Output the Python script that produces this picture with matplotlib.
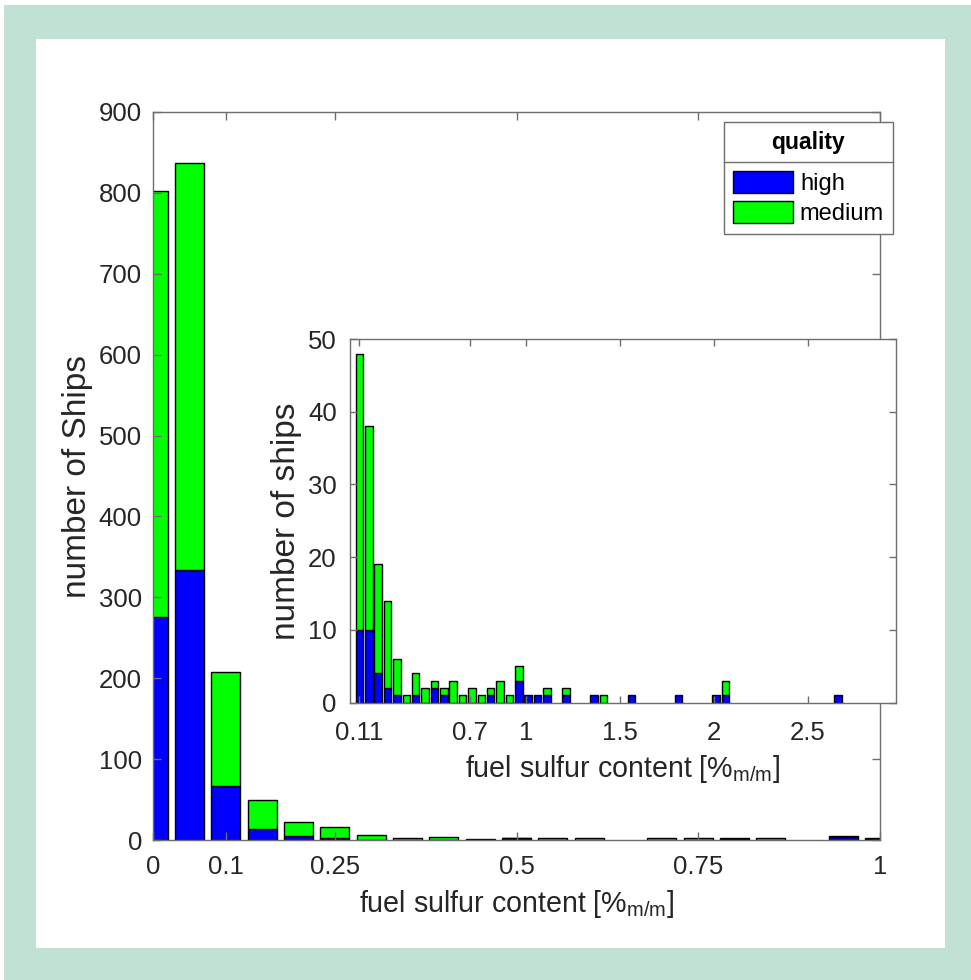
import matplotlib
matplotlib.use("Agg")
import matplotlib.pyplot as plt
from matplotlib.patches import Rectangle
from matplotlib.lines import Line2D
import numpy as np

plt.rcParams['font.family'] = ['Liberation Sans', 'DejaVu Sans']
plt.rcParams['mathtext.fontset'] = 'custom'
plt.rcParams['mathtext.rm'] = 'Liberation Sans'
plt.rcParams['mathtext.it'] = 'Liberation Sans'

# ---------------- data ----------------
# main histogram: bin centres 0, 0.05, ..., 1.0
main_centers = [0.00, 0.05, 0.10, 0.15, 0.20, 0.25, 0.30, 0.35, 0.40, 0.45, 0.50,
                0.55, 0.60, 0.65, 0.70, 0.75, 0.80, 0.85, 0.90, 0.95, 1.00]
main_high = [276, 334, 67, 14, 5, 3, 0, 0, 0, 0, 2, 0, 0, 0, 0, 0, 1, 0, 0, 4, 1]
main_medium = [526, 503, 141, 35, 17, 13, 6, 2, 4, 1, 1, 2, 3, 0, 2, 2, 1, 3, 0, 1, 1]

# inset histogram: bin centres 0.11 + 0.05*k
inset_k = list(range(52))
inset_high = [10, 10, 4, 2, 1, 0, 1, 0, 2, 1, 0, 0, 0, 0, 1, 0, 0, 3, 1, 1,
              1, 0, 1, 0, 0, 1, 0, 0, 0, 1, 0, 0, 0, 0, 1, 0, 0, 0, 1, 1,
              0, 0, 0, 0, 0, 0, 0, 0, 0, 0, 0, 1]
inset_medium = [38, 28, 15, 12, 5, 1, 3, 2, 1, 1, 3, 1, 2, 1, 1, 3, 1, 2, 0, 0,
                1, 0, 1, 0, 0, 0, 1, 0, 0, 0, 0, 0, 0, 0, 0, 0, 0, 0, 0, 2,
                0, 0, 0, 0, 0, 0, 0, 0, 0, 0, 0, 0]

main_xticks = [0, 0.1, 0.25, 0.5, 0.75, 1]
main_xticklabels = ['0', '0.1', '0.25', '0.5', '0.75', '1']
main_yticks = list(range(0, 901, 100))
inset_xticks = [0.11, 0.7, 1, 1.5, 2, 2.5]
inset_xticklabels = ['0.11', '0.7', '1', '1.5', '2', '2.5']
inset_yticks = [0, 10, 20, 30, 40, 50]

BLUE = '#0000ff'
GREEN = '#00ff00'
AXC = '#6e6e6e'
TXT = '#262626'

W, H = 971, 980
fig = plt.figure(figsize=(W / 100, H / 100), dpi=100)
fig.patch.set_facecolor('white')

# background frame
fig.add_artist(Rectangle((4 / W, 0), 1 - 4 / W, 1 - 5 / H, transform=fig.transFigure,
                         facecolor='#c0e1d3', edgecolor='none', zorder=-10))
fig.add_artist(Rectangle((36 / W, 1 - 948 / H), (945 - 36) / W, (948 - 39) / H,
                         transform=fig.transFigure, facecolor='white',
                         edgecolor='none', zorder=-9))


def ec(vals):
    return ['k' if v > 0 else 'none' for v in vals]


def style_axes(ax, ticklen, fs):
    for s in ax.spines.values():
        s.set_color(AXC)
        s.set_linewidth(1.0)
    ax.tick_params(direction='in', top=True, right=True, length=ticklen,
                   width=1.0, color=AXC, labelcolor=TXT, labelsize=fs)


XLAB = 'fuel sulfur content [%$_{\\mathregular{m/m}}$]'

# ---------------- main axes ----------------
ax = fig.add_axes([153 / W, 1 - 840 / H, (880 - 153) / W, (840 - 112) / H])
mc = np.array(main_centers)
mh = np.array(main_high)
mm = np.array(main_medium)
b1 = ax.bar(mc, mh, width=0.04, color=BLUE, edgecolor=ec(mh), linewidth=1.0, label='high')
b2 = ax.bar(mc, mm, width=0.04, bottom=mh, color=GREEN, edgecolor=ec(mm), linewidth=1.0,
            label='medium')
ax.set_xlim(0, 1)
ax.set_ylim(0, 900)
ax.set_xticks(main_xticks)
ax.set_xticklabels(main_xticklabels)
ax.set_yticks(main_yticks)
style_axes(ax, 6, 18.5)
ax.tick_params(axis='x', pad=11)
ax.tick_params(axis='y', pad=8)
ax.set_xlabel(XLAB, fontsize=20.6, color=TXT, labelpad=6)
ax.set_ylabel('number of Ships', fontsize=24, color=TXT, labelpad=4.5)

leg = ax.legend(handles=[b1, b2], labels=['high', 'medium'], title='quality',
                loc='upper right', bbox_to_anchor=(893 / W, 1 - 122 / H),
                bbox_transform=fig.transFigure, fontsize=17, title_fontsize=16.5,
                frameon=True, fancybox=False, framealpha=1, edgecolor=AXC,
                handlelength=2.55, handleheight=1.05, handletextpad=0.3,
                labelspacing=0.27, borderpad=0.38, borderaxespad=0)
leg.get_title().set_fontweight('bold')
leg.get_frame().set_linewidth(1.0)
leg.set_zorder(20)
leg._legend_box.sep = 12

# ---------------- inset axes ----------------
ax2 = fig.add_axes([350 / W, 1 - 702.5 / H, (896 - 350) / W, (702.5 - 339) / H])
ic = 0.11 + 0.05 * np.array(inset_k)
ih = np.array(inset_high)
im = np.array(inset_medium)
ax2.bar(ic, ih, width=0.04, color=BLUE, edgecolor=ec(ih), linewidth=1.0)
ax2.bar(ic, im, width=0.04, bottom=ih, color=GREEN, edgecolor=ec(im), linewidth=1.0)
ax2.set_xlim(0.06, 2.97)
ax2.set_ylim(0, 50)
ax2.set_xticks(inset_xticks)
ax2.set_xticklabels(inset_xticklabels)
ax2.set_yticks(inset_yticks)
style_axes(ax2, 5, 18.5)
ax2.tick_params(axis='x', pad=13)
ax2.tick_params(axis='y', pad=9.5)
ax2.set_xlabel(XLAB, fontsize=20.6, color=TXT, labelpad=6)
ax2.set_ylabel('number of ships', fontsize=24, color=TXT, labelpad=4.5)

# separator line under legend title
fig.canvas.draw()
r = fig.canvas.get_renderer()
lb = leg.get_frame().get_window_extent(r)
tb = leg.get_title().get_window_extent(r)
hb = leg.get_texts()[0].get_window_extent(r)
ysep = (tb.y0 + hb.y1) / 2 + 1
fig.add_artist(Line2D([lb.x0 / W, lb.x1 / W], [ysep / H, ysep / H],
                      transform=fig.transFigure, color=AXC, linewidth=1.0, zorder=30))

fig.savefig('out.png', dpi=100, facecolor=fig.get_facecolor())
